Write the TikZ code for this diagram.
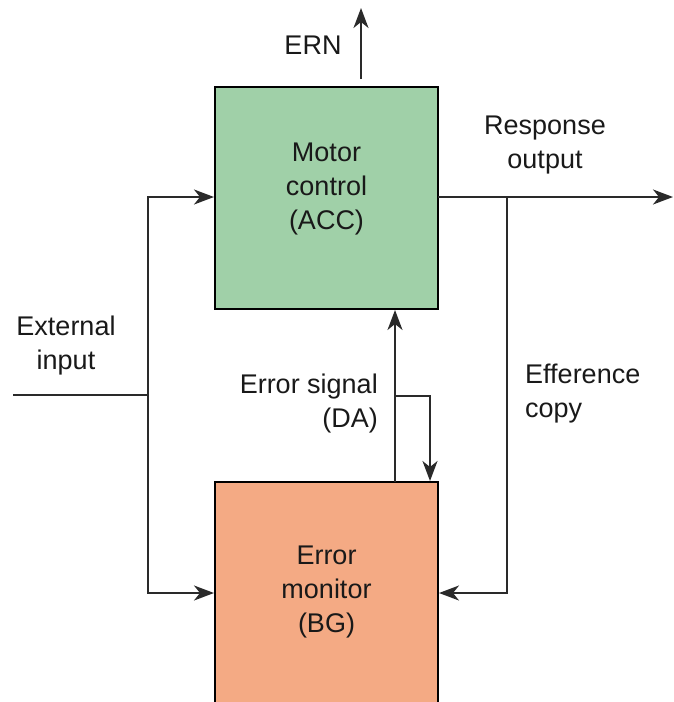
\documentclass[tikz,border=0pt]{standalone}
\usepackage{fontspec}
\setmainfont{Liberation Sans}
\usetikzlibrary{arrows.meta}
\definecolor{boxgreen}{HTML}{A0D0A8}
\definecolor{boxorange}{HTML}{F4AA84}
\definecolor{linegray}{HTML}{2A2A2A}
\begin{document}
\begin{tikzpicture}[x=1pt,y=-1pt,
  blk/.style={draw=black,line width=1.8pt,minimum width=223pt,minimum height=222pt,inner sep=0pt},
  lbl/.style={font=\fontsize{27}{34}\selectfont,inner sep=0pt,text=black!90},
  conn/.style={draw=linegray,line width=2pt},
  arr/.style={conn,-{Stealth[length=20pt,width=15pt,inset=6pt]}}]
\useasboundingbox (0,0) rectangle (673,702);
\clip (0,0) rectangle (673,702);
\node[blk,fill=boxgreen] (motor) at (326.5,198) {};
\node[blk,fill=boxorange] (err) at (326.5,593) {};
\node[lbl,align=center] (mtext) at (326.5,189) {Motor\\control\\(ACC)};
\node[lbl,align=center] (etext) at (326.5,592) {Error\\monitor\\(BG)};
% ERN
\coordinate (ernS) at (361,79);
\coordinate (ernE) at (361,8);
\draw[arr] (ernS) -- (ernE);
\node[lbl] (ern) at (313,45) {ERN};
% response output
\coordinate (out) at (673,197);
\coordinate (mR) at (438,197);
\draw[arr] (mR) -- (out);
\node[lbl,align=center] (resp) at (545,145) {Response\\output};
% efference copy
\coordinate (eb) at (507,197);
\coordinate (ec) at (507,593);
\coordinate (eR) at (439,593);
\draw[arr] (eb) -- (ec) -- (eR);
\node[lbl,align=left,anchor=west] (eff) at (525,394) {Efference\\copy};
% external input
\coordinate (xin) at (13,395);
\coordinate (xj) at (148,395);
\coordinate (xt) at (148,197);
\coordinate (xb) at (148,593);
\coordinate (mL) at (214,197);
\coordinate (eL) at (214,593);
\draw[conn] (xin) -- (xj);
\draw[arr] (xj) -- (xt) -- (mL);
\draw[arr] (xj) -- (xb) -- (eL);
\node[lbl,align=center] (ext) at (66,346) {External\\input};
% error signal
\coordinate (sB) at (395,482);
\coordinate (sT) at (395,310);
\coordinate (sj) at (395,396);
\coordinate (sr) at (430,396);
\coordinate (se) at (430,481);
\draw[arr] (sB) -- (sT);
\draw[arr] (sj) -- (sr) -- (se);
\node[lbl,align=right,anchor=east] (esig) at (378,404) {Error signal\\(DA)};
\end{tikzpicture}
\end{document}
